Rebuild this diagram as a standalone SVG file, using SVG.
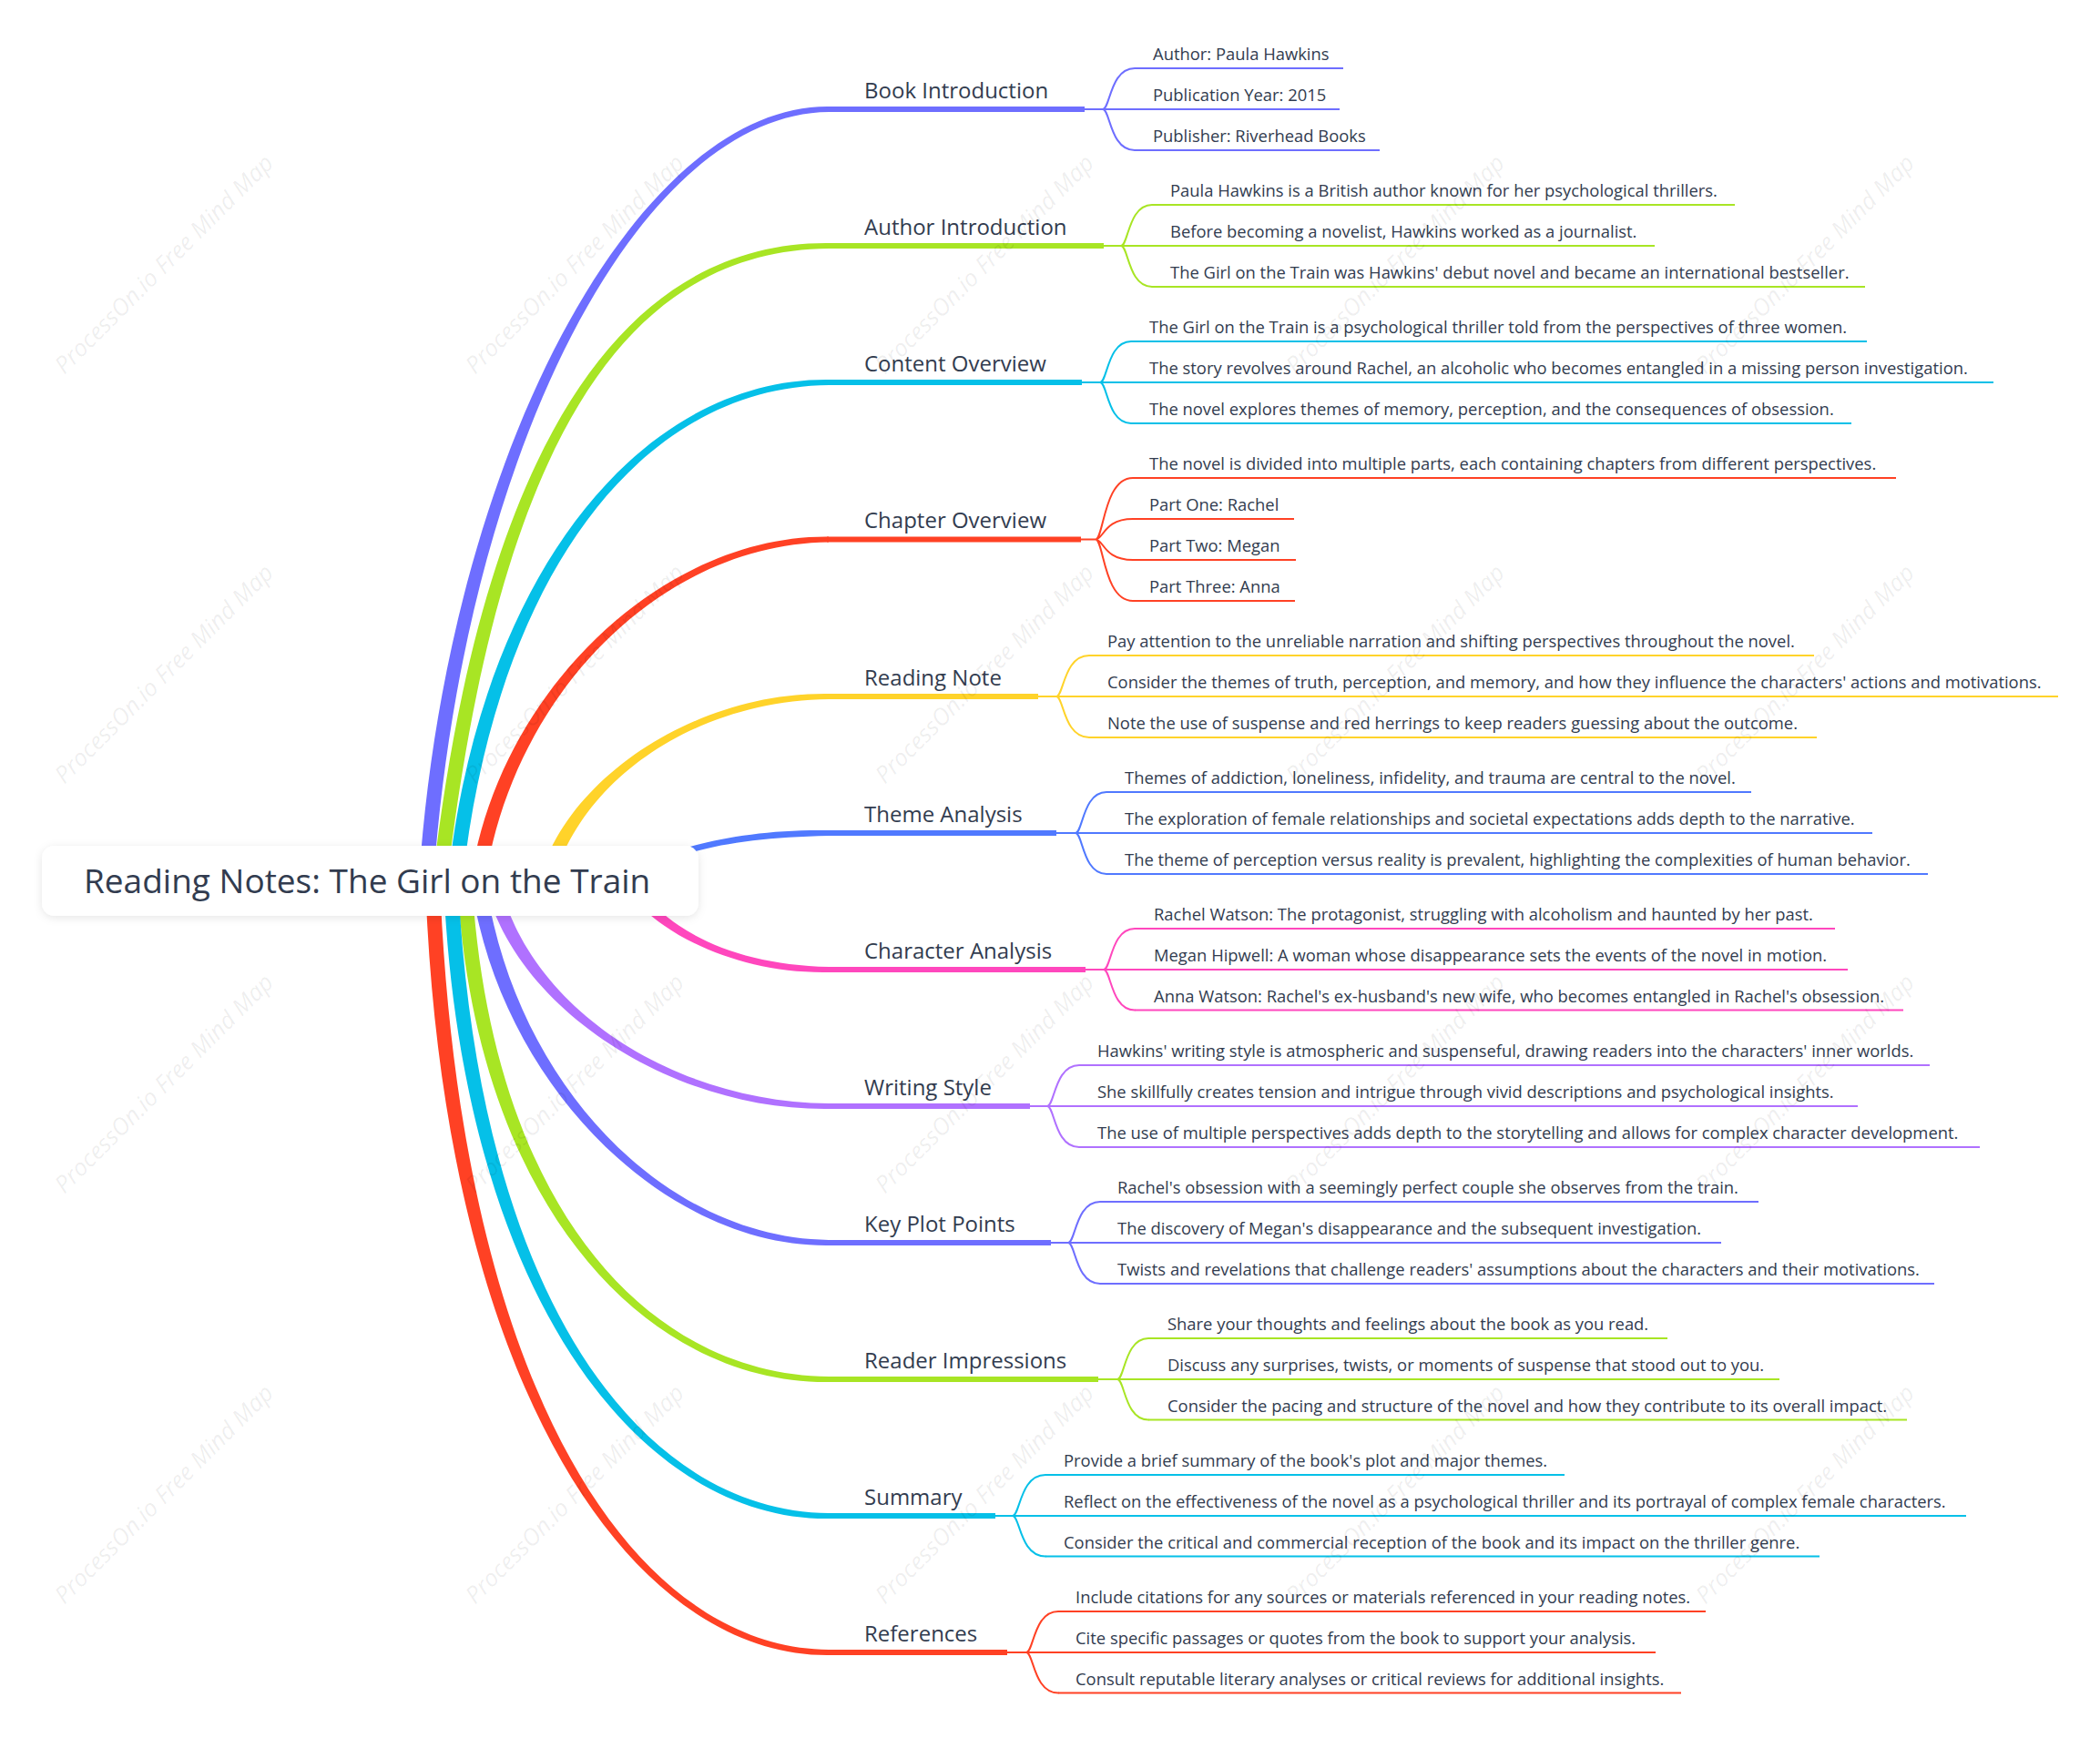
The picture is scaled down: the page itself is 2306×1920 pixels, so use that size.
<svg xmlns="http://www.w3.org/2000/svg" width="2306" height="1920" viewBox="0 0 2306 1920">
<defs>
<filter id="shadow" x="-10%" y="-30%" width="120%" height="160%">
<feDropShadow dx="0" dy="2" stdDeviation="5" flood-color="#000" flood-opacity="0.10"/>
</filter>
</defs>
<style>
text{font-family:"Open Sans","Liberation Sans",sans-serif;fill:#323c4f}
.root{font-size:37px}
.l1{font-size:24px}
.leaf{font-size:18.4px}
.wm{font-size:26px;font-style:italic;fill:#000;fill-opacity:0.075}
.thin{fill:none;stroke-width:2;stroke-linecap:round}
.ul1{stroke-width:6;fill:none}
.ul2{stroke-width:2;fill:none}
.c1{stroke:#6e6eff;fill:#6e6eff}
.c2{stroke:#a8e524;fill:#a8e524}
.c3{stroke:#05c0e8;fill:#05c0e8}
.c4{stroke:#ff4124;fill:#ff4124}
.c5{stroke:#ffd32a;fill:#ffd32a}
.c6{stroke:#5079ff;fill:#5079ff}
.c7{stroke:#ff47bd;fill:#ff47bd}
.c8{stroke:#b071ff;fill:#b071ff}
path.thin,line{fill:none}
.br{stroke:none}
</style>
<rect width="2306" height="1920" fill="#fff"/>

<g id="connectors">
<path class="c1 br" d="M460 967C491 500 700 115 910 117L910 123C700 125 509 500 476 967Z"/>
<path class="c2 br" d="M475 967C531 479 690 265 910 267L910 273C690 275 549 479 491 967Z"/>
<path class="c3 br" d="M492 967C526 639 700 415 910 417L910 423C700 425 544 639 508 967Z"/>
<path class="c4 br" d="M517 967C546 761 727 587.5 910 589.5L910 595.5C727 597.5 564 761 533 967Z"/>
<path class="c5 br" d="M592 967C621 856 763 760 910 762L910 768C763 770 639 856 608 967Z"/>
<path class="c6 br" d="M682 967C711 938 800 910 910 912L910 918C800 920 729 938 698 967Z"/>
<path class="c7 br" d="M682 967C711 1021 805 1070 910 1068L910 1062C805 1060 729 1021 698 967Z"/>
<path class="c8 br" d="M532 967C561 1103 734 1220 910 1218L910 1212C734 1210 579 1103 548 967Z"/>
<path class="c1 br" d="M517 967C546 1186 727 1370 910 1368L910 1362C727 1360 564 1186 533 967Z"/>
<path class="c2 br" d="M502 967C521 1323 710 1520 910 1518L910 1512C710 1510 539 1323 518 967Z"/>
<path class="c3 br" d="M487 967C506 1421 702 1670 910 1668L910 1662C702 1660 524 1421 503 967Z"/>
<path class="c4 br" d="M467 967C486 1518 692 1820 910 1818L910 1812C692 1810 504 1518 483 967Z"/>

<g class="c1"><path class="thin" d="M1191 120H1211M1211 120C1219 120 1219 75 1246 75M1211 120H1246M1211 120C1219 120 1219 165 1246 165"/></g>
<g class="c2"><path class="thin" d="M1212 270H1231M1231 270C1239 270 1239 225 1265 225M1231 270H1265M1231 270C1239 270 1239 315 1265 315"/></g>
<g class="c3"><path class="thin" d="M1188 420H1208M1208 420C1216 420 1216 375 1242 375M1208 420H1242M1208 420C1216 420 1216 465 1242 465"/></g>
<g class="c4"><path class="thin" d="M1187 592.5H1203M1203 592.5C1212 592.5 1212 525 1244 525M1203 592.5C1212 592.5 1212 570 1244 570M1203 592.5C1212 592.5 1212 615 1244 615M1203 592.5C1212 592.5 1212 660 1244 660"/></g>
<g class="c5"><path class="thin" d="M1140 765H1160M1160 765C1168 765 1168 720 1196 720M1160 765H1196M1160 765C1168 765 1168 810 1196 810"/></g>
<g class="c6"><path class="thin" d="M1160 915H1181M1181 915C1189 915 1189 870 1215 870M1181 915H1215M1181 915C1189 915 1189 960 1215 960"/></g>
<g class="c7"><path class="thin" d="M1192 1065H1212M1212 1065C1220 1065 1220 1020 1246 1020M1212 1065H1246M1212 1065C1220 1065 1220 1109.5 1246 1109.5"/></g>
<g class="c8"><path class="thin" d="M1131 1215H1150M1150 1215C1158 1215 1158 1170 1185 1170M1150 1215H1185M1150 1215C1158 1215 1158 1260 1185 1260"/></g>
<g class="c1"><path class="thin" d="M1154 1365H1173M1173 1365C1181 1365 1181 1320 1208 1320M1173 1365H1208M1173 1365C1181 1365 1181 1410 1208 1410"/></g>
<g class="c2"><path class="thin" d="M1206 1515H1227M1227 1515C1235 1515 1235 1470 1261 1470M1227 1515H1261M1227 1515C1235 1515 1235 1559.5 1261 1559.5"/></g>
<g class="c3"><path class="thin" d="M1093 1665H1112M1112 1665C1120 1665 1120 1620 1148 1620M1112 1665H1148M1112 1665C1120 1665 1120 1709.5 1148 1709.5"/></g>
<g class="c4"><path class="thin" d="M1106 1815H1127M1127 1815C1135 1815 1135 1770 1162 1770M1127 1815H1162M1127 1815C1135 1815 1135 1859.5 1162 1859.5"/></g>
</g>

<g id="root">
<rect x="46" y="929" width="721" height="77" rx="14" fill="#fff" filter="url(#shadow)"/>
<text class="root" x="92" y="981">Reading Notes: The Girl on the Train</text>
</g>

<g id="n1">
<line class="ul1 c1" x1="908" y1="120" x2="1191" y2="120"/>
<text class="l1" x="949" y="108">Book Introduction</text>
</g>
<g id="n1-1"><line class="ul2 c1" x1="1246" y1="75" x2="1475" y2="75"/><text class="leaf" x="1266" y="66">Author: Paula Hawkins</text></g>
<g id="n1-2"><line class="ul2 c1" x1="1246" y1="120" x2="1471" y2="120"/><text class="leaf" x="1266" y="111">Publication Year: 2015</text></g>
<g id="n1-3"><line class="ul2 c1" x1="1246" y1="165" x2="1515" y2="165"/><text class="leaf" x="1266" y="156">Publisher: Riverhead Books</text></g>

<g id="n2">
<line class="ul1 c2" x1="908" y1="270" x2="1212" y2="270"/>
<text class="l1" x="949" y="258">Author Introduction</text>
</g>
<g id="n2-1"><line class="ul2 c2" x1="1265" y1="225" x2="1905" y2="225"/><text class="leaf" x="1285" y="216">Paula Hawkins is a British author known for her psychological thrillers.</text></g>
<g id="n2-2"><line class="ul2 c2" x1="1265" y1="270" x2="1817" y2="270"/><text class="leaf" x="1285" y="261">Before becoming a novelist, Hawkins worked as a journalist.</text></g>
<g id="n2-3"><line class="ul2 c2" x1="1265" y1="315" x2="2048" y2="315"/><text class="leaf" x="1285" y="306">The Girl on the Train was Hawkins' debut novel and became an international bestseller.</text></g>

<g id="n3">
<line class="ul1 c3" x1="908" y1="420" x2="1188" y2="420"/>
<text class="l1" x="949" y="408">Content Overview</text>
</g>
<g id="n3-1"><line class="ul2 c3" x1="1242" y1="375" x2="2050" y2="375"/><text class="leaf" x="1262" y="366">The Girl on the Train is a psychological thriller told from the perspectives of three women.</text></g>
<g id="n3-2"><line class="ul2 c3" x1="1242" y1="420" x2="2189" y2="420"/><text class="leaf" x="1262" y="411">The story revolves around Rachel, an alcoholic who becomes entangled in a missing person investigation.</text></g>
<g id="n3-3"><line class="ul2 c3" x1="1242" y1="465" x2="2033" y2="465"/><text class="leaf" x="1262" y="456">The novel explores themes of memory, perception, and the consequences of obsession.</text></g>

<g id="n4">
<line class="ul1 c4" x1="908" y1="592.5" x2="1187" y2="592.5"/>
<text class="l1" x="949" y="580">Chapter Overview</text>
</g>
<g id="n4-1"><line class="ul2 c4" x1="1244" y1="525" x2="2082" y2="525"/><text class="leaf" x="1262" y="516">The novel is divided into multiple parts, each containing chapters from different perspectives.</text></g>
<g id="n4-2"><line class="ul2 c4" x1="1244" y1="570" x2="1421" y2="570"/><text class="leaf" x="1262" y="561">Part One: Rachel</text></g>
<g id="n4-3"><line class="ul2 c4" x1="1244" y1="615" x2="1423" y2="615"/><text class="leaf" x="1262" y="606">Part Two: Megan</text></g>
<g id="n4-4"><line class="ul2 c4" x1="1244" y1="660" x2="1422" y2="660"/><text class="leaf" x="1262" y="651">Part Three: Anna</text></g>

<g id="n5">
<line class="ul1 c5" x1="908" y1="765" x2="1140" y2="765"/>
<text class="l1" x="949" y="753">Reading Note</text>
</g>
<g id="n5-1"><line class="ul2 c5" x1="1196" y1="720" x2="1992" y2="720"/><text class="leaf" x="1216" y="711">Pay attention to the unreliable narration and shifting perspectives throughout the novel.</text></g>
<g id="n5-2"><line class="ul2 c5" x1="1196" y1="765" x2="2260" y2="765"/><text class="leaf" x="1216" y="756">Consider the themes of truth, perception, and memory, and how they influence the characters' actions and motivations.</text></g>
<g id="n5-3"><line class="ul2 c5" x1="1196" y1="810" x2="1995" y2="810"/><text class="leaf" x="1216" y="801">Note the use of suspense and red herrings to keep readers guessing about the outcome.</text></g>

<g id="n6">
<line class="ul1 c6" x1="908" y1="915" x2="1160" y2="915"/>
<text class="l1" x="949" y="903">Theme Analysis</text>
</g>
<g id="n6-1"><line class="ul2 c6" x1="1215" y1="870" x2="1923" y2="870"/><text class="leaf" x="1235" y="861">Themes of addiction, loneliness, infidelity, and trauma are central to the novel.</text></g>
<g id="n6-2"><line class="ul2 c6" x1="1215" y1="915" x2="2056" y2="915"/><text class="leaf" x="1235" y="906">The exploration of female relationships and societal expectations adds depth to the narrative.</text></g>
<g id="n6-3"><line class="ul2 c6" x1="1215" y1="960" x2="2117" y2="960"/><text class="leaf" x="1235" y="951">The theme of perception versus reality is prevalent, highlighting the complexities of human behavior.</text></g>

<g id="n7">
<line class="ul1 c7" x1="908" y1="1065" x2="1192" y2="1065"/>
<text class="l1" x="949" y="1053">Character Analysis</text>
</g>
<g id="n7-1"><line class="ul2 c7" x1="1246" y1="1020" x2="2015" y2="1020"/><text class="leaf" x="1267" y="1011">Rachel Watson: The protagonist, struggling with alcoholism and haunted by her past.</text></g>
<g id="n7-2"><line class="ul2 c7" x1="1246" y1="1065" x2="2029" y2="1065"/><text class="leaf" x="1267" y="1056">Megan Hipwell: A woman whose disappearance sets the events of the novel in motion.</text></g>
<g id="n7-3"><line class="ul2 c7" x1="1246" y1="1109.5" x2="2090" y2="1109.5"/><text class="leaf" x="1267" y="1100.5">Anna Watson: Rachel's ex-husband's new wife, who becomes entangled in Rachel's obsession.</text></g>

<g id="n8">
<line class="ul1 c8" x1="908" y1="1215" x2="1131" y2="1215"/>
<text class="l1" x="949" y="1203">Writing Style</text>
</g>
<g id="n8-1"><line class="ul2 c8" x1="1185" y1="1170" x2="2119" y2="1170"/><text class="leaf" x="1205" y="1161">Hawkins' writing style is atmospheric and suspenseful, drawing readers into the characters' inner worlds.</text></g>
<g id="n8-2"><line class="ul2 c8" x1="1185" y1="1215" x2="2040" y2="1215"/><text class="leaf" x="1205" y="1206">She skillfully creates tension and intrigue through vivid descriptions and psychological insights.</text></g>
<g id="n8-3"><line class="ul2 c8" x1="1185" y1="1260" x2="2174" y2="1260"/><text class="leaf" x="1205" y="1251">The use of multiple perspectives adds depth to the storytelling and allows for complex character development.</text></g>

<g id="n9">
<line class="ul1 c1" x1="908" y1="1365" x2="1154" y2="1365"/>
<text class="l1" x="949" y="1353">Key Plot Points</text>
</g>
<g id="n9-1"><line class="ul2 c1" x1="1208" y1="1320" x2="1931" y2="1320"/><text class="leaf" x="1227" y="1311">Rachel's obsession with a seemingly perfect couple she observes from the train.</text></g>
<g id="n9-2"><line class="ul2 c1" x1="1208" y1="1365" x2="1890" y2="1365"/><text class="leaf" x="1227" y="1356">The discovery of Megan's disappearance and the subsequent investigation.</text></g>
<g id="n9-3"><line class="ul2 c1" x1="1208" y1="1410" x2="2124" y2="1410"/><text class="leaf" x="1227" y="1401">Twists and revelations that challenge readers' assumptions about the characters and their motivations.</text></g>

<g id="n10">
<line class="ul1 c2" x1="908" y1="1515" x2="1206" y2="1515"/>
<text class="l1" x="949" y="1503">Reader Impressions</text>
</g>
<g id="n10-1"><line class="ul2 c2" x1="1261" y1="1470" x2="1831" y2="1470"/><text class="leaf" x="1282" y="1461">Share your thoughts and feelings about the book as you read.</text></g>
<g id="n10-2"><line class="ul2 c2" x1="1261" y1="1515" x2="1954" y2="1515"/><text class="leaf" x="1282" y="1506">Discuss any surprises, twists, or moments of suspense that stood out to you.</text></g>
<g id="n10-3"><line class="ul2 c2" x1="1261" y1="1559.5" x2="2094" y2="1559.5"/><text class="leaf" x="1282" y="1550.5">Consider the pacing and structure of the novel and how they contribute to its overall impact.</text></g>

<g id="n11">
<line class="ul1 c3" x1="908" y1="1665" x2="1093" y2="1665"/>
<text class="l1" x="949" y="1653">Summary</text>
</g>
<g id="n11-1"><line class="ul2 c3" x1="1148" y1="1620" x2="1718" y2="1620"/><text class="leaf" x="1168" y="1611">Provide a brief summary of the book's plot and major themes.</text></g>
<g id="n11-2"><line class="ul2 c3" x1="1148" y1="1665" x2="2159" y2="1665"/><text class="leaf" x="1168" y="1656">Reflect on the effectiveness of the novel as a psychological thriller and its portrayal of complex female characters.</text></g>
<g id="n11-3"><line class="ul2 c3" x1="1148" y1="1709.5" x2="1998" y2="1709.5"/><text class="leaf" x="1168" y="1700.5">Consider the critical and commercial reception of the book and its impact on the thriller genre.</text></g>

<g id="n12">
<line class="ul1 c4" x1="908" y1="1815" x2="1106" y2="1815"/>
<text class="l1" x="949" y="1803">References</text>
</g>
<g id="n12-1"><line class="ul2 c4" x1="1162" y1="1770" x2="1873" y2="1770"/><text class="leaf" x="1181" y="1761">Include citations for any sources or materials referenced in your reading notes.</text></g>
<g id="n12-2"><line class="ul2 c4" x1="1162" y1="1815" x2="1818" y2="1815"/><text class="leaf" x="1181" y="1806">Cite specific passages or quotes from the book to support your analysis.</text></g>
<g id="n12-3"><line class="ul2 c4" x1="1162" y1="1859.5" x2="1846" y2="1859.5"/><text class="leaf" x="1181" y="1850.5">Consult reputable literary analyses or critical reviews for additional insights.</text></g>

<g id="watermarks" text-anchor="middle">
<text class="wm" transform="translate(180 290) rotate(-45)" y="9">ProcessOn.io Free Mind Map</text>
<text class="wm" transform="translate(631 290) rotate(-45)" y="9">ProcessOn.io Free Mind Map</text>
<text class="wm" transform="translate(1081 290) rotate(-45)" y="9">ProcessOn.io Free Mind Map</text>
<text class="wm" transform="translate(1532 290) rotate(-45)" y="9">ProcessOn.io Free Mind Map</text>
<text class="wm" transform="translate(1982 290) rotate(-45)" y="9">ProcessOn.io Free Mind Map</text>
<text class="wm" transform="translate(2433 290) rotate(-45)" y="9">ProcessOn.io Free Mind Map</text>
<text class="wm" transform="translate(180 740) rotate(-45)" y="9">ProcessOn.io Free Mind Map</text>
<text class="wm" transform="translate(631 740) rotate(-45)" y="9">ProcessOn.io Free Mind Map</text>
<text class="wm" transform="translate(1081 740) rotate(-45)" y="9">ProcessOn.io Free Mind Map</text>
<text class="wm" transform="translate(1532 740) rotate(-45)" y="9">ProcessOn.io Free Mind Map</text>
<text class="wm" transform="translate(1982 740) rotate(-45)" y="9">ProcessOn.io Free Mind Map</text>
<text class="wm" transform="translate(2433 740) rotate(-45)" y="9">ProcessOn.io Free Mind Map</text>
<text class="wm" transform="translate(180 1190) rotate(-45)" y="9">ProcessOn.io Free Mind Map</text>
<text class="wm" transform="translate(631 1190) rotate(-45)" y="9">ProcessOn.io Free Mind Map</text>
<text class="wm" transform="translate(1081 1190) rotate(-45)" y="9">ProcessOn.io Free Mind Map</text>
<text class="wm" transform="translate(1532 1190) rotate(-45)" y="9">ProcessOn.io Free Mind Map</text>
<text class="wm" transform="translate(1982 1190) rotate(-45)" y="9">ProcessOn.io Free Mind Map</text>
<text class="wm" transform="translate(2433 1190) rotate(-45)" y="9">ProcessOn.io Free Mind Map</text>
<text class="wm" transform="translate(180 1641) rotate(-45)" y="9">ProcessOn.io Free Mind Map</text>
<text class="wm" transform="translate(631 1641) rotate(-45)" y="9">ProcessOn.io Free Mind Map</text>
<text class="wm" transform="translate(1081 1641) rotate(-45)" y="9">ProcessOn.io Free Mind Map</text>
<text class="wm" transform="translate(1532 1641) rotate(-45)" y="9">ProcessOn.io Free Mind Map</text>
<text class="wm" transform="translate(1982 1641) rotate(-45)" y="9">ProcessOn.io Free Mind Map</text>
<text class="wm" transform="translate(2433 1641) rotate(-45)" y="9">ProcessOn.io Free Mind Map</text>
</g>
</svg>
